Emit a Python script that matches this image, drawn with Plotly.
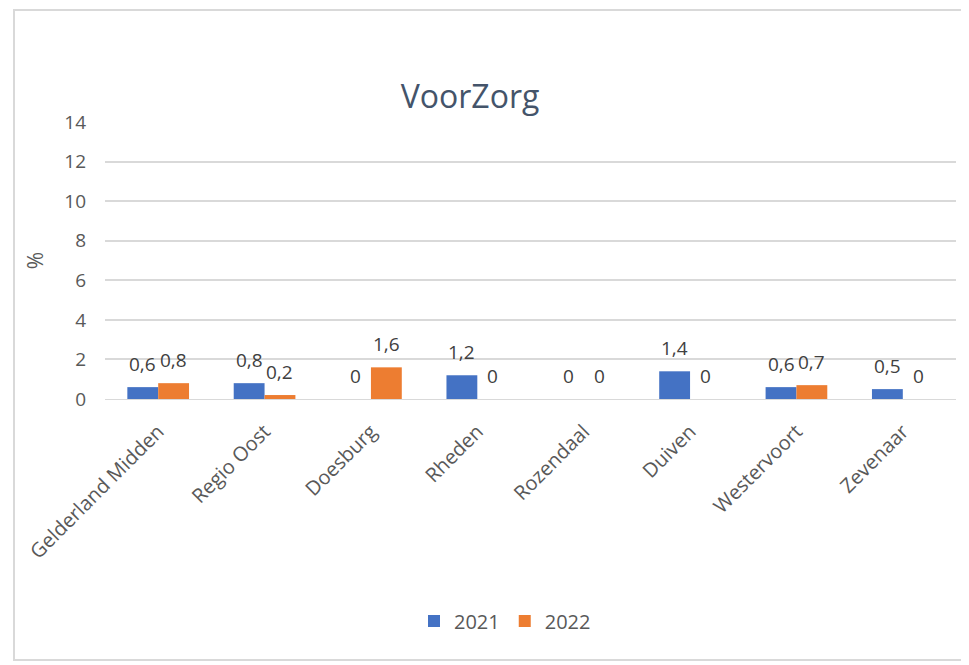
import plotly.graph_objects as go

categories = ["Gelderland Midden", "Regio Oost", "Doesburg", "Rheden", "Rozendaal", "Duiven", "Westervoort", "Zevenaar"]
values_2021 = [0.6, 0.8, 0, 1.2, 0, 1.4, 0.6, 0.5]
values_2022 = [0.8, 0.2, 1.6, 0, 0, 0, 0.7, 0]
series = [("2021", values_2021, "#4472C4"), ("2022", values_2022, "#ED7D31")]
y_ticks = [0, 2, 4, 6, 8, 10, 12, 14]

def fmt(v):
    return ("%g" % v).replace(".", ",")

# page body has an 8px margin: plot area target (page) x 105..956, y 122..399
OFF = 8
L, R, T, B = 105 - OFF, 956 - OFF, 122 - OFF, 399 - OFF
W, H = 969, 665
PW, PH = R - L, B - T
BARGAP = 0.42
bar_w = PW / len(categories) * (1 - BARGAP) / len(series)

fig = go.Figure()
annotations = []
for i, (name, vals, col) in enumerate(series):
    fig.add_trace(go.Bar(
        x=categories, y=vals, name=name, marker=dict(color=col, line=dict(width=0)),
    ))
    shift = (i - (len(series) - 1) / 2) * bar_w
    for c, v in zip(categories, vals):
        annotations.append(dict(x=c, y=v, xref="x", yref="y", text=fmt(v), showarrow=False,
                                xshift=shift, yshift=23, yanchor="middle",
                                font=dict(family="Open Sans", size=19, color="#404040")))

fig.update_layout(
    width=W, height=H,
    margin=dict(l=L, r=W - R, t=T, b=H - B),
    paper_bgcolor="white", plot_bgcolor="white",
    barmode="group", bargap=BARGAP, bargroupgap=0,
    font=dict(family="Open Sans", size=19, color="#595959"),
    title=dict(text="VoorZorg", x=(470 - OFF) / W, xanchor="center", y=1 - (97 - OFF) / H, yanchor="middle",
               font=dict(family="Open Sans", size=32, color="#44546A")),
    xaxis=dict(tickangle=-45, showgrid=False, showline=True, linecolor="#d9d9d9", linewidth=1,
               tickfont=dict(size=20, color="#595959"), ticks="", ticklabelstandoff=12),
    yaxis=dict(range=[0, 14], tickvals=y_ticks, showgrid=True, gridcolor="#d9d9d9", gridwidth=1.5,
               zeroline=False, ticks="", tickfont=dict(size=19, color="#595959"), ticklabelstandoff=18,
               title=dict(text="%", standoff=14, font=dict(size=21, color="#595959"))),
    legend=dict(orientation="h", x=(505 - 105) / 851, xanchor="center", y=(399 - 621) / 277, yanchor="middle",
                font=dict(size=20, color="#595959")),
    annotations=annotations,
    shapes=[dict(type="rect", xref="paper", yref="paper",
                 x0=(14 - 105) / 851, x1=(968 - 105) / 851,
                 y0=(399 - 660) / 277, y1=(399 - 10) / 277,
                 line=dict(color="#d9d9d9", width=2), fillcolor="rgba(0,0,0,0)")],
)
fig.write_html("out.html")
